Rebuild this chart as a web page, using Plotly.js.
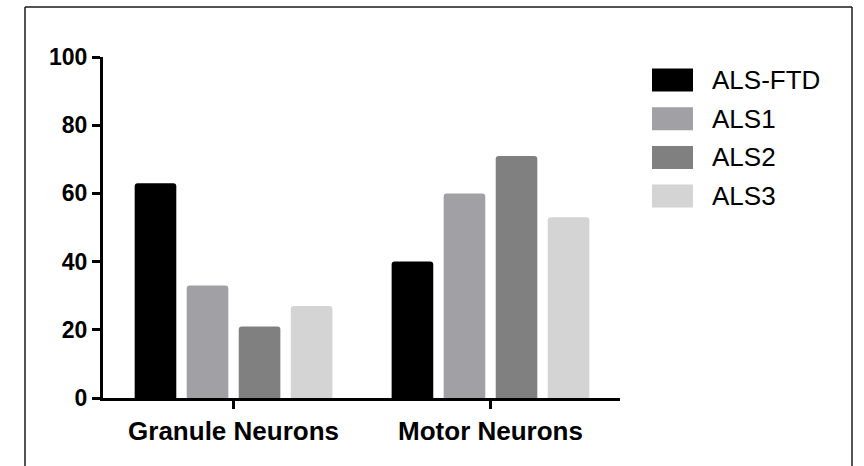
<!DOCTYPE html>
<html>
<head>
<meta charset="utf-8">
<script src="https://cdn.plot.ly/plotly-3.0.1.min.js"></script>
<style>html,body{margin:0;padding:0;background:#fff;overflow:hidden;}#chart{width:864px;height:466px;}</style>
</head>
<body>
<div id="chart"></div>
<script>
const categories = ["Granule Neurons", "Motor Neurons"];
const seriesNames = ["ALS-FTD", "ALS1", "ALS2", "ALS3"];
const alsFtd = [63, 40];
const als1 = [33, 60];
const als2 = [21, 71];
const als3 = [27, 53];
const yTicks = [0, 20, 40, 60, 80, 100];

const seriesValues = [alsFtd, als1, als2, als3];
const colors = ["#000000", "#a1a1a5", "#808080", "#d4d4d4"];

const traces = seriesNames.map((name, i) => ({
  type: "bar",
  name: name,
  x: categories,
  y: seriesValues[i],
  marker: {color: colors[i], cornerradius: 3, line: {width: 0}},
  showlegend: false,
  hoverinfo: "x+y+name"
}));

// custom legend built from series names and colours
const shapes = [];
const annotations = [];
const plotTop = 57, plotH = 341, plotL = 103, plotW = 517;
const px2x = p => (p - plotL) / plotW;
const px2y = p => (plotTop + plotH - p) / plotH;

seriesNames.forEach((name, i) => {
  const cy = 80 + i * 38.7;
  shapes.push({
    type: "rect", xref: "paper", yref: "paper",
    x0: px2x(652), x1: px2x(693), y0: px2y(cy + 11.5), y1: px2y(cy - 11.5),
    fillcolor: colors[i], line: {width: 0}, layer: "above"
  });
  annotations.push({
    xref: "paper", yref: "paper", x: px2x(710), y: px2y(cy),
    xanchor: "left", yanchor: "middle", showarrow: false,
    text: name, font: {family: "Liberation Sans, Arial, sans-serif", size: 26, color: "#000"}
  });
});

// outer frame: left, top and right edges (open at the bottom of the picture)
const frameLine = {color: "#1a1a1a", width: 1.5};
const fx0 = px2x(25), fx1 = px2x(852), fyTop = px2y(7), fyBot = px2y(466);
shapes.push({type: "line", xref: "paper", yref: "paper", x0: fx0, x1: fx0, y0: fyBot, y1: fyTop, line: frameLine, layer: "above"});
shapes.push({type: "line", xref: "paper", yref: "paper", x0: fx0, x1: fx1, y0: fyTop, y1: fyTop, line: frameLine, layer: "above"});
shapes.push({type: "line", xref: "paper", yref: "paper", x0: fx1, x1: fx1, y0: fyBot, y1: fyTop, line: frameLine, layer: "above"});

const layout = {
  width: 864, height: 466,
  margin: {l: plotL, r: 864 - plotL - plotW, t: plotTop, b: 466 - plotTop - plotH, pad: 0},
  paper_bgcolor: "#ffffff", plot_bgcolor: "#ffffff",
  barmode: "group", bargap: 0.19, bargroupgap: 0.2,
  font: {family: "Liberation Sans, Arial, sans-serif", color: "#000"},
  xaxis: {
    range: [-0.508, 1.504], showgrid: false, zeroline: false,
    showline: true, linecolor: "#000", linewidth: 3,
    ticks: "outside", ticklen: 8, tickwidth: 3, tickcolor: "#000",
    tickfont: {family: "Liberation Sans, Arial, sans-serif", size: 26, color: "#000", weight: "bold"},
    fixedrange: true
  },
  yaxis: {
    range: [0, 100], tickvals: yTicks, ticktext: yTicks.map(String),
    showgrid: false, zeroline: false,
    showline: true, linecolor: "#000", linewidth: 3,
    ticks: "outside", ticklen: 8, tickwidth: 3, tickcolor: "#000",
    tickfont: {family: "Liberation Sans, Arial, sans-serif", size: 23, color: "#000", weight: "bold"},
    fixedrange: true
  },
  shapes: shapes,
  annotations: annotations,
  showlegend: false
};

Plotly.newPlot("chart", traces, layout, {displayModeBar: false, staticPlot: true});
</script>
</body>
</html>
